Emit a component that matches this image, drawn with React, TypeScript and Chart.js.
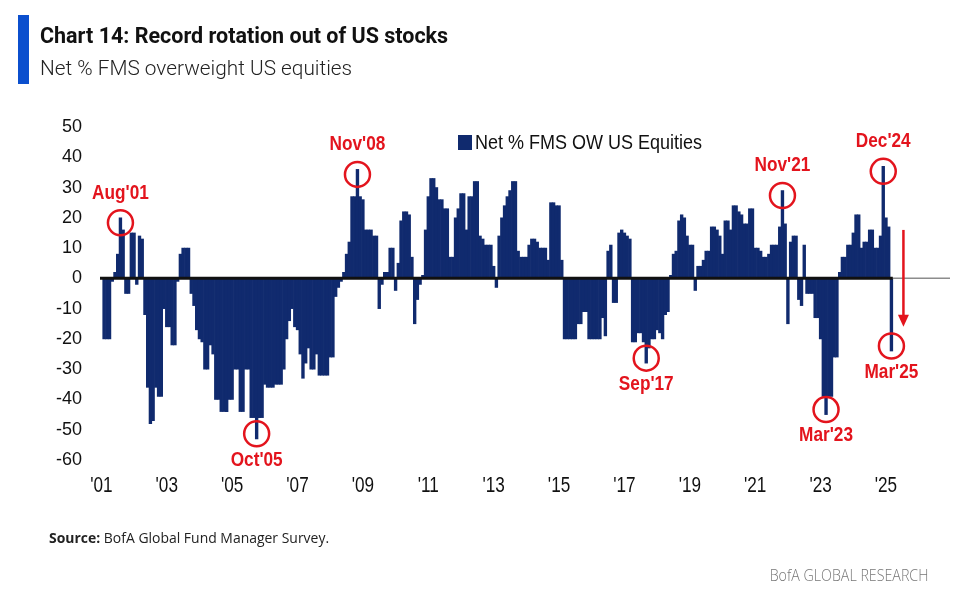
import React, { useEffect, useRef } from 'react';
import Chart from 'chart.js/auto';

// Axis runs monthly from Jan'01 to Dec'26; survey data stops at Mar'25
const START_YEAR = 2001;
const END_YEAR = 2026;
const MONTHS = ['Jan', 'Feb', 'Mar', 'Apr', 'May', 'Jun', 'Jul', 'Aug', 'Sep', 'Oct', 'Nov', 'Dec'];

// Net % FMS overweight US equities, Jan..Dec for each year
const y2001 = [null, -20, -20, -20, -1, 2, 8, 20, 16, -5, -5, 15];
const y2002 = [15, -2, 14, 13, -12, -36, -48, -47, -36, -39, -39, -10];
const y2003 = [-16, -16, -22, -22, -1, 8, 10, 10, 10, -5, -9, -17];
const y2004 = [-20, -21, -30, -30, -22, -25, -40, -40, -44, -44, -44, -40];
const y2005 = [-40, -30, -30, -44, -44, -30, -30, -46, -46, -53, -46, -46];
const y2006 = [-35, -36, -36, -36, -35, -35, -35, -30, -20, -14, -10, -16];
const y2007 = [-17, -25, -33, -28, -23, -30, -30, -25, -32, -32, -32, -32];
const y2008 = [-26, -26, -6, -3, -1, 2, 8, 12, 27, 27, 36, 27];
const y2009 = [26, 16, 16, 16, 14, 14, -10, -2, 2, 2, 10, 10];
const y2010 = [-4, 5, 19, 22, 22, 21, 7, -15, -7, -2, 1, 16];
const y2011 = [27, 33, 33, 30, 26, 26, 23, 23, 7, 7, 20, 23];
const y2012 = [28, 28, 16, 27, 27, 32, 32, 14, 13, 11, 11, 11];
const y2013 = [4, -3, 14, 20, 24, 27, 29, 32, 32, 9, 7, 7];
const y2014 = [7, 11, 13, 13, 12, 10, 10, 10, 6, 25, 25, 24];
const y2015 = [24, 6, -20, -20, -20, -20, -20, -15, -15, -11, -11, -20];
const y2016 = [-20, -20, -20, -20, -13, -19, 9, 11, -8, -8, 15, 16];
const y2017 = [15, 14, 13, -21, -21, -18, -18, -21, -28, -23, -20, -20];
const y2018 = [-17, -18, -20, -12, -11, 1, 8, 9, 19, 21, 20, 14];
const y2019 = [11, 11, -4, 4, 4, 6, 9, 9, 17, 17, 16, 14];
const y2020 = [8, 19, 19, 16, 24, 24, 22, 21, 18, 18, 23, 23];
const y2021 = [10, 10, 9, 7, 7, 8, 11, 11, 11, 17, 29, 18];
const y2022 = [-15, 12, 14, 14, -7, -9, 11, -5, -5, -5, -13, -13];
const y2023 = [-20, -39, -45, -39, -39, -26, -26, 2, 7, 7, 11, 11];
const y2024 = [15, 21, 21, 10, 12, 12, 16, 16, 10, 10, 14, 37];
const y2025 = [20, 17, -24];

const netOW: (number | null)[] = [
  ...y2001, ...y2002, ...y2003, ...y2004, ...y2005, ...y2006, ...y2007, ...y2008,
  ...y2009, ...y2010, ...y2011, ...y2012, ...y2013, ...y2014, ...y2015, ...y2016,
  ...y2017, ...y2018, ...y2019, ...y2020, ...y2021, ...y2022, ...y2023, ...y2024, ...y2025,
];

const monthLabels: string[] = [];
for (let yr = START_YEAR; yr <= END_YEAR; yr++) {
  for (const m of MONTHS) monthLabels.push(`${m}'${String(yr).slice(2)}`);
}

// tick label every other January, '01 .. '25
const xTickLabel = (i: number) => {
  const l = monthLabels[i];
  const yy = parseInt(l.slice(4), 10);
  return l.startsWith('Jan') && yy % 2 === 1 && yy <= 25 ? `'${l.slice(4)}` : '';
};

const callouts = ["Aug'01", "Oct'05", "Nov'08", "Sep'17", "Nov'21", "Mar'23", "Dec'24", "Mar'25"];
const legendLabel = 'Net % FMS OW US Equities';
const Y_MIN = -60;
const Y_MAX = 50;
const Y_STEP = 10;
const ARROW_FROM = 16;
const ARROW_TO = -16;

const NAVY = '#102a6e';
const RED = '#e3141d';
const ARIAL = '"Liberation Sans", Arial, sans-serif';

// narrow text: the original uses a condensed Arial
const narrowText = (ctx: CanvasRenderingContext2D, text: string, x: number, y: number, sx: number) => {
  ctx.save();
  ctx.translate(x, y);
  ctx.scale(sx, 1);
  ctx.fillText(text, 0, 0);
  ctx.restore();
};

const overlayPlugin = {
  id: 'overlay',
  afterDatasetsDraw(chart: any) {
    const { ctx, chartArea, scales } = chart;
    const xs = scales.x;
    const ys = scales.y;
    const y0 = ys.getPixelForValue(0);
    const lastIdx = netOW.length - 1;
    const half = (xs.getPixelForValue(1) - xs.getPixelForValue(0)) / 2;

    ctx.save();
    // zero line: thin grey across the plot, heavy black under the data
    ctx.strokeStyle = '#8c8c8c';
    ctx.lineWidth = 1.5;
    ctx.beginPath();
    ctx.moveTo(chartArea.left, y0);
    ctx.lineTo(chartArea.right, y0);
    ctx.stroke();
    ctx.strokeStyle = '#111';
    ctx.lineWidth = 3;
    ctx.beginPath();
    ctx.moveTo(chartArea.left, y0);
    ctx.lineTo(xs.getPixelForValue(lastIdx) + half, y0);
    ctx.stroke();

    // x tick labels
    ctx.fillStyle = '#111';
    ctx.font = `22px ${ARIAL}`;
    ctx.textAlign = 'center';
    ctx.textBaseline = 'middle';
    monthLabels.forEach((_, i) => {
      const t = xTickLabel(i);
      if (t) narrowText(ctx, t, xs.getPixelForValue(i), chartArea.bottom + 26, 0.78);
    });

    // red circles + labels
    callouts.forEach((m) => {
      const i = monthLabels.indexOf(m);
      const v = netOW[i] as number;
      const up = v > 0;
      const cx = xs.getPixelForValue(i);
      const cy = ys.getPixelForValue(v) + (up ? 5 : -5);
      ctx.strokeStyle = RED;
      ctx.lineWidth = 2.5;
      ctx.beginPath();
      ctx.arc(cx, cy, 12.5, 0, Math.PI * 2);
      ctx.stroke();
      ctx.fillStyle = RED;
      ctx.font = `bold 21px ${ARIAL}`;
      ctx.textAlign = 'center';
      ctx.textBaseline = 'middle';
      narrowText(ctx, m, cx, cy + (up ? -30 : 26), 0.82);
    });

    // down arrow after the last bar
    const ax = xs.getPixelForValue(lastIdx) + 12;
    const a1 = ys.getPixelForValue(ARROW_FROM);
    const a2 = ys.getPixelForValue(ARROW_TO);
    ctx.strokeStyle = RED;
    ctx.fillStyle = RED;
    ctx.lineWidth = 2.5;
    ctx.beginPath();
    ctx.moveTo(ax, a1);
    ctx.lineTo(ax, a2 - 10);
    ctx.stroke();
    ctx.beginPath();
    ctx.moveTo(ax - 5.5, a2 - 12);
    ctx.lineTo(ax + 5.5, a2 - 12);
    ctx.lineTo(ax, a2);
    ctx.closePath();
    ctx.fill();

    // legend inside the plot
    const lx = chartArea.left + 358;
    const ly = chartArea.top + 8;
    ctx.fillStyle = NAVY;
    ctx.fillRect(lx, ly, 14, 15);
    ctx.fillStyle = '#111';
    ctx.font = `20px ${ARIAL}`;
    ctx.textAlign = 'left';
    ctx.textBaseline = 'middle';
    narrowText(ctx, legendLabel, lx + 17, ly + 8, 0.9);
    ctx.restore();
  },
};

const BofAChart: React.FC = () => {
  const chartRef = useRef<HTMLCanvasElement>(null);
  const chartInstance = useRef<Chart | null>(null);

  useEffect(() => {
    if (!chartRef.current) return;
    const ctx = chartRef.current.getContext('2d');
    if (!ctx) return;
    if (chartInstance.current) chartInstance.current.destroy();

    chartInstance.current = new Chart(ctx, {
      type: 'bar',
      data: {
        labels: monthLabels,
        datasets: [
          {
            label: legendLabel,
            data: netOW,
            backgroundColor: NAVY,
            borderWidth: 0,
            barPercentage: 1,
            categoryPercentage: 1,
          },
        ],
      },
      options: {
        responsive: false,
        animation: false,
        layout: { padding: { top: 127, right: 10, bottom: 112, left: 0 } },
        plugins: {
          legend: { display: false },
          tooltip: { enabled: false },
        },
        scales: {
          x: {
            grid: { display: false },
            border: { display: false },
            // labels are drawn condensed by the overlay plugin
            ticks: { display: false },
            afterFit: (s: any) => {
              s.height = 40;
            },
          },
          y: {
            min: Y_MIN,
            max: Y_MAX,
            grid: { display: false, drawTicks: false },
            border: { display: false },
            afterFit: (s: any) => {
              s.width = 100;
            },
            ticks: {
              stepSize: Y_STEP,
              padding: 18,
              color: '#111',
              font: { family: ARIAL, size: 18 },
            },
          },
        },
      },
      plugins: [overlayPlugin],
    });

    return () => {
      if (chartInstance.current) {
        chartInstance.current.destroy();
        chartInstance.current = null;
      }
    };
  }, []);

  return <canvas ref={chartRef} width={960} height={612} style={{ position: 'absolute', left: 0, top: 0, width: 960, height: 612 }} />;
};

const App: React.FC = () => {
  return (
    <div style={{ position: 'fixed', left: 0, top: 0, width: 960, height: 612, background: '#fff', overflow: 'hidden' }}>
      <BofAChart />
      <div style={{ position: 'absolute', left: 18, top: 15, width: 11, height: 69, background: '#0b4fce' }} />
      <div
        style={{
          position: 'absolute', left: 40, top: 25, fontFamily: 'Roboto, sans-serif', fontWeight: 700,
          fontSize: 21.5, lineHeight: '21.5px', color: '#111', whiteSpace: 'nowrap',
        }}
      >
        Chart 14: Record rotation out of US stocks
      </div>
      <div
        style={{
          position: 'absolute', left: 40, top: 58, fontFamily: 'Roboto, sans-serif', fontWeight: 300,
          fontSize: 20.8, lineHeight: '20px', color: '#222', whiteSpace: 'nowrap',
        }}
      >
        Net % FMS overweight US equities
      </div>
      <div
        style={{
          position: 'absolute', left: 49, top: 530, fontFamily: '"Open Sans", sans-serif', fontSize: 15,
          lineHeight: '15px', color: '#222', whiteSpace: 'nowrap', transform: 'scaleX(0.93)', transformOrigin: 'left top',
        }}
      >
        <span style={{ fontWeight: 700 }}>Source:</span> BofA Global Fund Manager Survey.
      </div>
      <div
        style={{
          position: 'absolute', right: 32, top: 567, fontFamily: '"Open Sans", sans-serif', fontWeight: 300,
          fontSize: 16, lineHeight: '16px', color: '#777', whiteSpace: 'nowrap', transform: 'scaleX(0.89)',
          transformOrigin: 'right top',
        }}
      >
        BofA GLOBAL RESEARCH
      </div>
    </div>
  );
};

export default App;
